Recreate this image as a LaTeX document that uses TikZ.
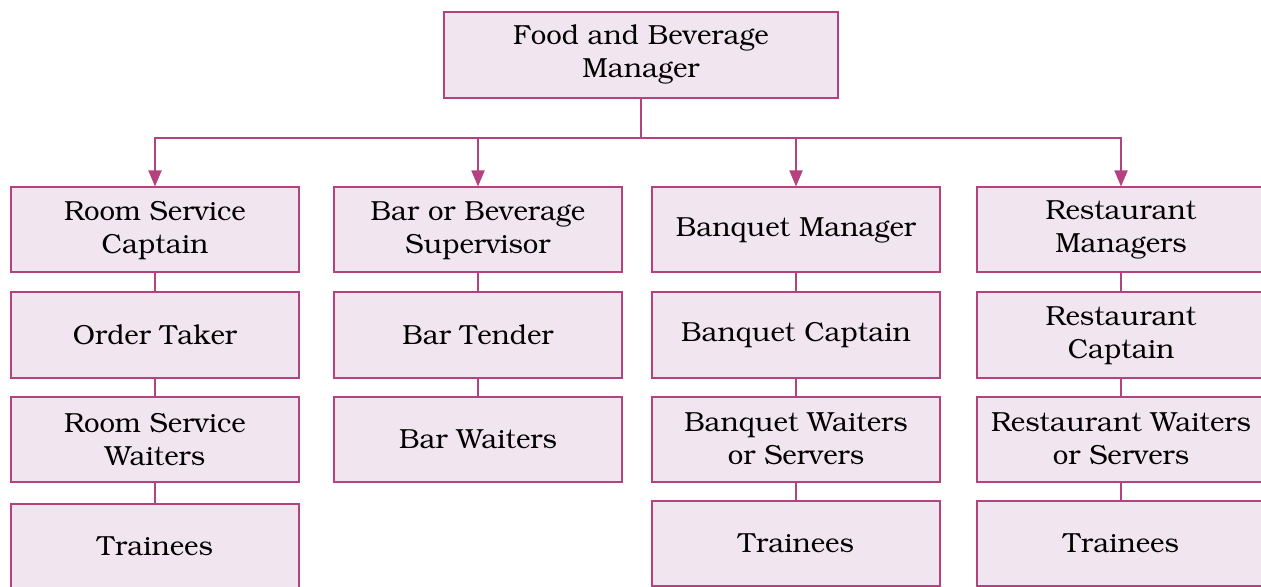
\documentclass[tikz,border=0pt]{standalone}
\usepackage[T1]{fontenc}
\usepackage{bookman}
\usetikzlibrary{arrows.meta, positioning}
\definecolor{cline}{HTML}{B3427F}
\definecolor{cfill}{HTML}{F1E5EF}
\tikzset{
  every picture/.style={line width=1pt},
  box/.style={draw=cline, fill=cfill, align=center, inner sep=2pt, minimum width=144pt, minimum height=42.5pt, font=\fontsize{13.8}{16.5}\selectfont},
  link/.style={draw=cline, line width=0.9pt},
  arrow/.style={link, -{Triangle[length=8pt, width=6.5pt]}},
}

\begin{document}
\begin{tikzpicture}[x=0.5pt, y=-0.5pt]
  \useasboundingbox (0,0) rectangle (1261,587);
  \clip (0,0) rectangle (1261,587);
  % top of the chart
  \node[box, minimum width=197pt, minimum height=43pt] (fbm) at (641,55) {Food and Beverage\\Manager};
  \coordinate (bus) at (641,138);
  % room service
  \node[box] (rs1) at (155,230) {Room Service\\Captain};
  \node[box] (rs2) at (155,335) {Order Taker};
  \node[box] (rs3) at (155,439) {Room Service\\Waiters};
  \node[box] (rs4) at (155,546) {Trainees};
  % bar
  \node[box] (bar1) at (478,230) {Bar or Beverage\\Supervisor};
  \node[box] (bar2) at (478,335) {Bar Tender};
  \node[box] (bar3) at (478,439) {Bar Waiters};
  % banquet
  \node[box] (bq1) at (796,230) {Banquet Manager};
  \node[box] (bq2) at (796,335) {Banquet Captain};
  \node[box] (bq3) at (796,439) {Banquet Waiters\\or Servers};
  \node[box] (bq4) at (796,543) {Trainees};
  % restaurant
  \node[box] (rt1) at (1121,230) {Restaurant\\Managers};
  \node[box] (rt2) at (1121,335) {Restaurant\\Captain};
  \node[box] (rt3) at (1121,439) {Restaurant Waiters\\or Servers};
  \node[box] (rt4) at (1121,543) {Trainees};
  % connectors
  \draw[link] (fbm) -- (bus);
  \foreach \n in {rs1, bar1, bq1, rt1}
    \draw[arrow] (bus) -| (\n.north);
  \draw[link] (rs1) -- (rs2) (rs2) -- (rs3) (rs3) -- (rs4);
  \draw[link] (bar1) -- (bar2) (bar2) -- (bar3);
  \draw[link] (bq1) -- (bq2) (bq2) -- (bq3) (bq3) -- (bq4);
  \draw[link] (rt1) -- (rt2) (rt2) -- (rt3) (rt3) -- (rt4);
\end{tikzpicture}
\end{document}
